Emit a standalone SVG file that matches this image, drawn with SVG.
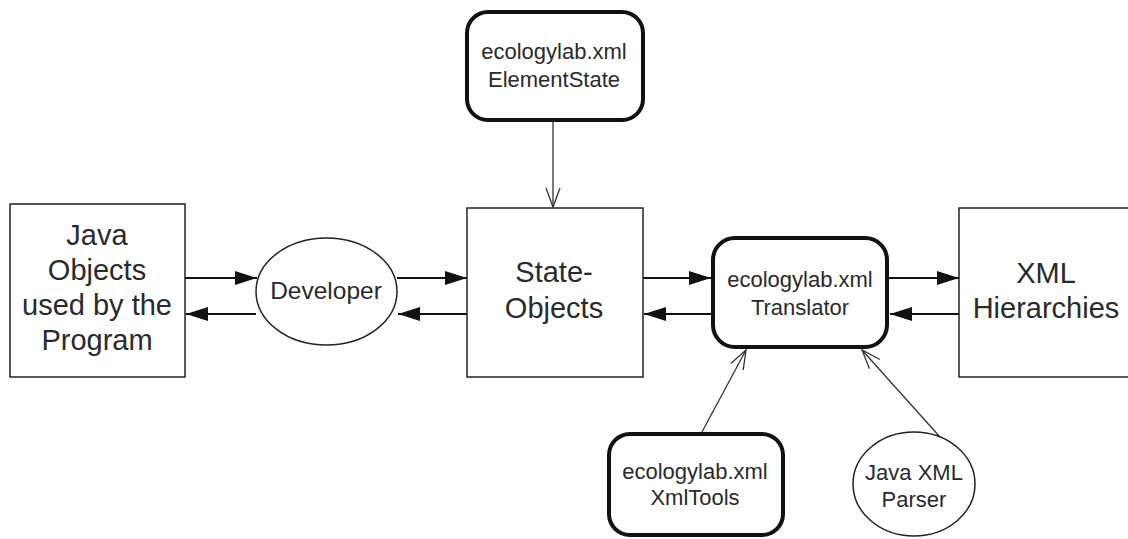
<svg xmlns="http://www.w3.org/2000/svg" width="1128" height="539" viewBox="0 0 1128 539">
<style>
.box{fill:#fff;stroke:#222;stroke-width:1.5}
.rbox{fill:#fff;stroke:#111;stroke-width:4}
.big{font-family:"Liberation Sans",Arial,sans-serif;font-size:29px;fill:#2a2a2a;text-anchor:middle}
.mid{font-family:"Liberation Sans",Arial,sans-serif;font-size:24.5px;fill:#2a2a2a;text-anchor:middle}
.sm{font-family:"Liberation Sans",Arial,sans-serif;font-size:22px;fill:#2a2a2a;text-anchor:middle}
.fl{stroke:#111;stroke-width:2;fill:none}
.th{stroke:#333;stroke-width:1.3;fill:none}
</style>
<defs>
<marker id="solid" markerUnits="userSpaceOnUse" markerWidth="24" markerHeight="14" refX="22" refY="7" orient="auto">
<path d="M0,0 L22,7 L0,14 Z" fill="#111"/>
</marker>
<marker id="open" markerUnits="userSpaceOnUse" markerWidth="22" markerHeight="20" refX="19" refY="10" orient="auto">
<path d="M0,3 L19,10 L0,17" fill="none" stroke="#333" stroke-width="1.3"/>
</marker>
</defs>
<g id="connectors">
<line class="fl" x1="185" y1="278" x2="257" y2="278" marker-end="url(#solid)"/>
<line class="fl" x1="256" y1="314" x2="186" y2="314" marker-end="url(#solid)"/>
<line class="fl" x1="397" y1="278" x2="467" y2="278" marker-end="url(#solid)"/>
<line class="fl" x1="467" y1="314" x2="398" y2="314" marker-end="url(#solid)"/>
<line class="fl" x1="643" y1="278" x2="711" y2="278" marker-end="url(#solid)"/>
<line class="fl" x1="711" y1="314" x2="644" y2="314" marker-end="url(#solid)"/>
<line class="fl" x1="889" y1="278" x2="959" y2="278" marker-end="url(#solid)"/>
<line class="fl" x1="959" y1="314" x2="890" y2="314" marker-end="url(#solid)"/>
<line class="th" x1="553" y1="122" x2="553" y2="207" marker-end="url(#open)"/>
<line class="th" x1="702" y1="432" x2="746" y2="350" marker-end="url(#open)"/>
<line class="th" x1="940" y1="437" x2="862" y2="350" marker-end="url(#open)"/>
</g>
<g id="java">
<rect class="box" x="10" y="204" width="175" height="173"/>
<text class="big" x="97" y="245">Java</text>
<text class="big" x="97" y="280">Objects</text>
<text class="big" x="97" y="315">used by the</text>
<text class="big" x="97" y="350">Program</text>
</g>
<g id="developer">
<ellipse class="box" cx="326.5" cy="291.5" rx="70.5" ry="53.5"/>
<text class="mid" x="326" y="299">Developer</text>
</g>
<g id="state">
<rect class="box" x="467" y="208" width="176" height="169"/>
<text class="big" x="554" y="282">State-</text>
<text class="big" x="554" y="318">Objects</text>
</g>
<g id="elementstate">
<rect class="rbox" x="467" y="12" width="176" height="108" rx="21"/>
<text class="sm" x="554" y="59">ecologylab.xml</text>
<text class="sm" x="554" y="87">ElementState</text>
</g>
<g id="translator">
<rect class="rbox" x="713" y="238" width="174" height="109" rx="22"/>
<text class="sm" x="800" y="287">ecologylab.xml</text>
<text class="sm" x="800" y="315">Translator</text>
</g>
<g id="xml">
<rect class="box" x="959" y="208" width="181" height="169"/>
<text class="big" x="1046" y="283">XML</text>
<text class="big" x="1046" y="318">Hierarchies</text>
</g>
<g id="xmltools">
<rect class="rbox" x="609" y="434" width="174" height="101" rx="21"/>
<text class="sm" x="695" y="479">ecologylab.xml</text>
<text class="sm" x="695" y="505">XmlTools</text>
</g>
<g id="parser">
<ellipse class="box" cx="914" cy="484" rx="61" ry="52"/>
<text class="sm" x="914" y="480">Java XML</text>
<text class="sm" x="914" y="507">Parser</text>
</g>
</svg>
